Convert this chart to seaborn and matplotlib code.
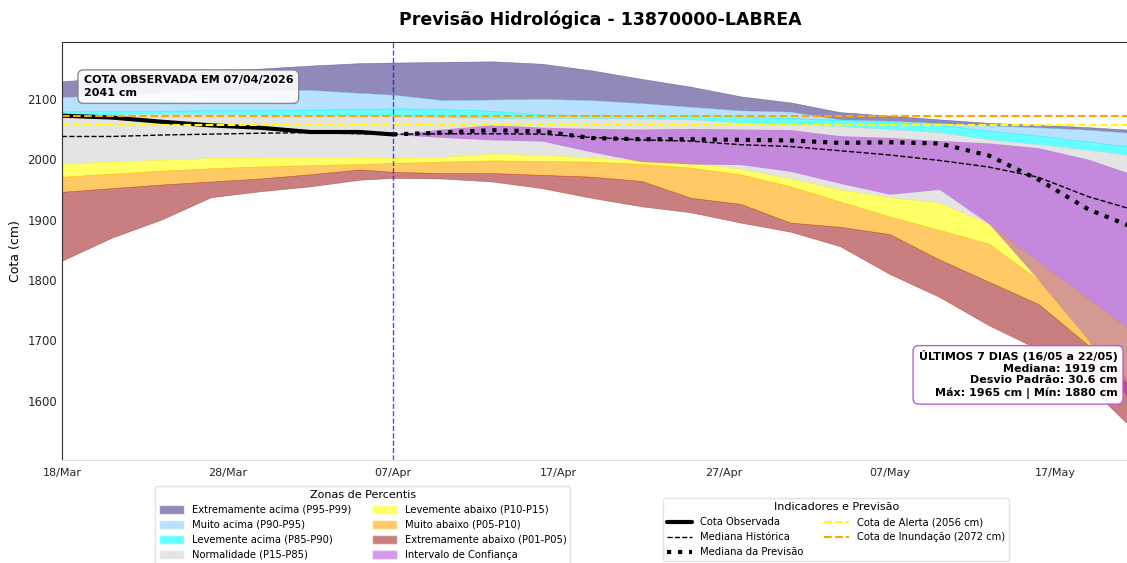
import pandas as pd
import matplotlib.pyplot as plt
import matplotlib.dates as mdates
import seaborn as sns
from matplotlib.patches import Patch
from matplotlib.lines import Line2D

# datas (a cada ~3 dias)
datas = pd.to_datetime([
    '2026-03-18', '2026-03-21', '2026-03-24', '2026-03-27', '2026-03-30', '2026-04-02',
    '2026-04-05', '2026-04-07', '2026-04-10', '2026-04-13', '2026-04-16', '2026-04-19',
    '2026-04-22', '2026-04-25', '2026-04-28', '2026-05-01', '2026-05-04', '2026-05-07',
    '2026-05-10', '2026-05-13', '2026-05-16', '2026-05-19', '2026-05-22'])

p99 = [2129, 2135, 2140, 2146, 2150, 2155, 2159, 2160, 2161, 2162, 2158, 2147,
       2133, 2120, 2104, 2094, 2078, 2072, 2066, 2060, 2057, 2053, 2048]
p95 = [2103, 2107, 2111, 2115, 2115, 2115, 2110, 2107, 2098, 2099, 2100, 2098,
       2093, 2087, 2081, 2079, 2066, 2064, 2060, 2056, 2053, 2049, 2043]
p90 = [2079, 2080, 2080, 2081, 2081, 2082, 2083, 2084, 2083, 2080, 2074, 2073,
       2072, 2072, 2071, 2068, 2065, 2062, 2057, 2047, 2039, 2029, 2019]
p85 = [2073, 2074, 2075, 2075, 2074, 2073, 2072, 2071, 2070, 2068, 2068, 2068,
       2068, 2066, 2061, 2058, 2055, 2050, 2045, 2033, 2025, 2016, 2005]
p15 = [1993, 1996, 1999, 2002, 2003, 2004, 2003, 2002, 2004, 2009, 2007, 2003,
       1998, 1994, 1984, 1968, 1950, 1937, 1928, 1893, 1830, 1769, 1708]
p10 = [1971, 1976, 1981, 1985, 1988, 1990, 1992, 1994, 1996, 1998, 1997, 1996,
       1992, 1986, 1975, 1955, 1930, 1905, 1883, 1860, 1800, 1698, 1620]
p05 = [1946, 1952, 1958, 1963, 1968, 1975, 1983, 1979, 1977, 1977, 1974, 1971,
       1964, 1936, 1926, 1895, 1888, 1876, 1834, 1797, 1760, 1692, 1610]
p01 = [1832, 1870, 1900, 1937, 1947, 1955, 1966, 1969, 1968, 1963, 1952, 1936,
       1922, 1912, 1895, 1880, 1856, 1810, 1772, 1725, 1685, 1625, 1545]

mediana_hist = [2037.6, 2037.6, 2040, 2041.5, 2043, 2044, 2042, 2041.5, 2042, 2042, 2041.5, 2036,
                2032, 2030, 2024, 2021, 2014, 2007, 1998, 1987, 1970, 1938, 1914]

# observado até 07/04
cota_obs = [2072, 2069, 2062, 2056, 2052, 2045, 2045, 2041]

# previsão a partir de 07/04
prev_mediana = [2041, 2044, 2048, 2046, 2035, 2033, 2033, 2032, 2031, 2027, 2028, 2026,
                2006, 1966, 1917, 1884]
ic_sup = [2041, 2050, 2057, 2053, 2051, 2050, 2051, 2050, 2049, 2039, 2036, 2031,
          2027, 2019, 2000, 1972]
ic_inf = [2041, 2036, 2032, 2030, 2012, 1996, 1992, 1991, 1980, 1960, 1942, 1950,
          1893, 1800, 1700, 1580]

cota_alerta = 2056
cota_inundacao = 2072

datas_obs = datas[:8]
datas_prev = datas[7:]

sns.set_style("white")
plt.rcParams['text.color'] = 'black'
plt.rcParams['axes.labelcolor'] = 'black'

fig = plt.figure(figsize=(11.27, 5.63), dpi=100)
ax = fig.add_axes([0.0550, 0.1829, 0.9547, 0.7425])

# zonas de percentis
zonas = [
    (p95, p99, 'darkslateblue', 'Extremamente acima (P95-P99)'),
    (p90, p95, 'lightskyblue', 'Muito acima (P90-P95)'),
    (p85, p90, 'cyan', 'Levemente acima (P85-P90)'),
    (p15, p85, 'lightgray', 'Normalidade (P15-P85)'),
    (p10, p15, 'yellow', 'Levemente abaixo (P10-P15)'),
    (p05, p10, 'orange', 'Muito abaixo (P05-P10)'),
    (p01, p05, 'brown', 'Extremamente abaixo (P01-P05)'),
]
for lo, hi, cor, _ in zonas:
    ax.fill_between(datas, lo, hi, color=cor, alpha=0.6, lw=0.4)

# intervalo de confiança da previsão
ax.fill_between(datas_prev, ic_inf, ic_sup, color='darkviolet', alpha=0.4, lw=0)

# linhas
sns.lineplot(x=datas, y=mediana_hist, ax=ax, color='black', lw=1, linestyle='--')
sns.lineplot(x=datas_obs, y=cota_obs, ax=ax, color='black', lw=3)
sns.lineplot(x=datas_prev, y=prev_mediana, ax=ax, color='black', lw=3, linestyle=':')

ax.axhline(cota_alerta, color='yellow', lw=1.5, linestyle='--')
ax.axhline(cota_inundacao, color='orange', lw=1.5, linestyle='--')
ax.axvline(datas[7], color='blue', lw=1, linestyle='--', alpha=0.7)

ax.set_xlim(datas[0], datas[-1])
ax.set_ylim(1502, 2194)
ax.set_yticks([1600, 1700, 1800, 1900, 2000, 2100])
ticks_x = pd.date_range(datas[0], datas[-1], freq='10D')
ax.set_xticks(ticks_x)
ax.xaxis.set_major_formatter(mdates.DateFormatter('%d/%b'))
ax.tick_params(axis='x', length=3, color='#cccccc', labelsize=8, pad=3)
ax.tick_params(axis='y', length=0, labelsize=8.5)
ax.set_xlabel('')
ax.set_ylabel('Cota (cm)', fontsize=9)
ax.set_title('Previsão Hidrológica - 13870000-LABREA', fontsize=12.5, fontweight='bold', pad=12)

for s in ['top', 'left']:
    ax.spines[s].set_color('#333333')
ax.spines['bottom'].set_color('#dddddd')
ax.spines['right'].set_visible(False)

# caixas de texto
ax.text(0.02, 0.92, 'COTA OBSERVADA EM 07/04/2026\n2041 cm', transform=ax.transAxes,
        fontsize=8, fontweight='bold', va='top', ha='left', linespacing=1.3,
        bbox=dict(boxstyle='round,pad=0.5', facecolor='white', edgecolor='gray', alpha=0.9))

ax.text(0.981, 0.147, 'ÚLTIMOS 7 DIAS (16/05 a 22/05)\nMediana: 1919 cm\nDesvio Padrão: 30.6 cm\n'
        'Máx: 1965 cm | Mín: 1880 cm', transform=ax.transAxes,
        fontsize=8, fontweight='bold', va='bottom', ha='right', multialignment='right',
        bbox=dict(boxstyle='round,pad=0.5', facecolor='white', edgecolor='#b45ad8', alpha=0.95))

# legendas
handles_zonas = [Patch(facecolor=c, alpha=0.6, label=l) for _, _, c, l in zonas]
handles_zonas.append(Patch(facecolor='darkviolet', alpha=0.4, label='Intervalo de Confiança'))
leg1 = fig.legend(handles=handles_zonas, title='Zonas de Percentis', ncol=2,
                  loc='upper center', bbox_to_anchor=(0.322, 0.137), fontsize=7.2,
                  title_fontsize=8, frameon=True, handlelength=2.5, handleheight=0.9,
                  labelspacing=0.5, columnspacing=2.0, borderaxespad=0)
leg1.get_frame().set_edgecolor('#dddddd')

handles_ind = [
    Line2D([], [], color='black', lw=3, label='Cota Observada'),
    Line2D([], [], color='black', lw=1, linestyle='--', label='Mediana Histórica'),
    Line2D([], [], color='black', lw=3, linestyle=':', label='Mediana da Previsão'),
    Line2D([], [], color='yellow', lw=1.5, linestyle='--', label=f'Cota de Alerta ({cota_alerta} cm)'),
    Line2D([], [], color='orange', lw=1.5, linestyle='--', label=f'Cota de Inundação ({cota_inundacao} cm)'),
]
leg2 = fig.legend(handles=handles_ind, title='Indicadores e Previsão', ncol=2,
                  loc='upper center', bbox_to_anchor=(0.742, 0.115), fontsize=7.2,
                  title_fontsize=8, frameon=True, handlelength=2.5,
                  labelspacing=0.5, columnspacing=2.0, borderaxespad=0)
leg2.get_frame().set_edgecolor('#dddddd')

fig.savefig('out.png', dpi=100)
